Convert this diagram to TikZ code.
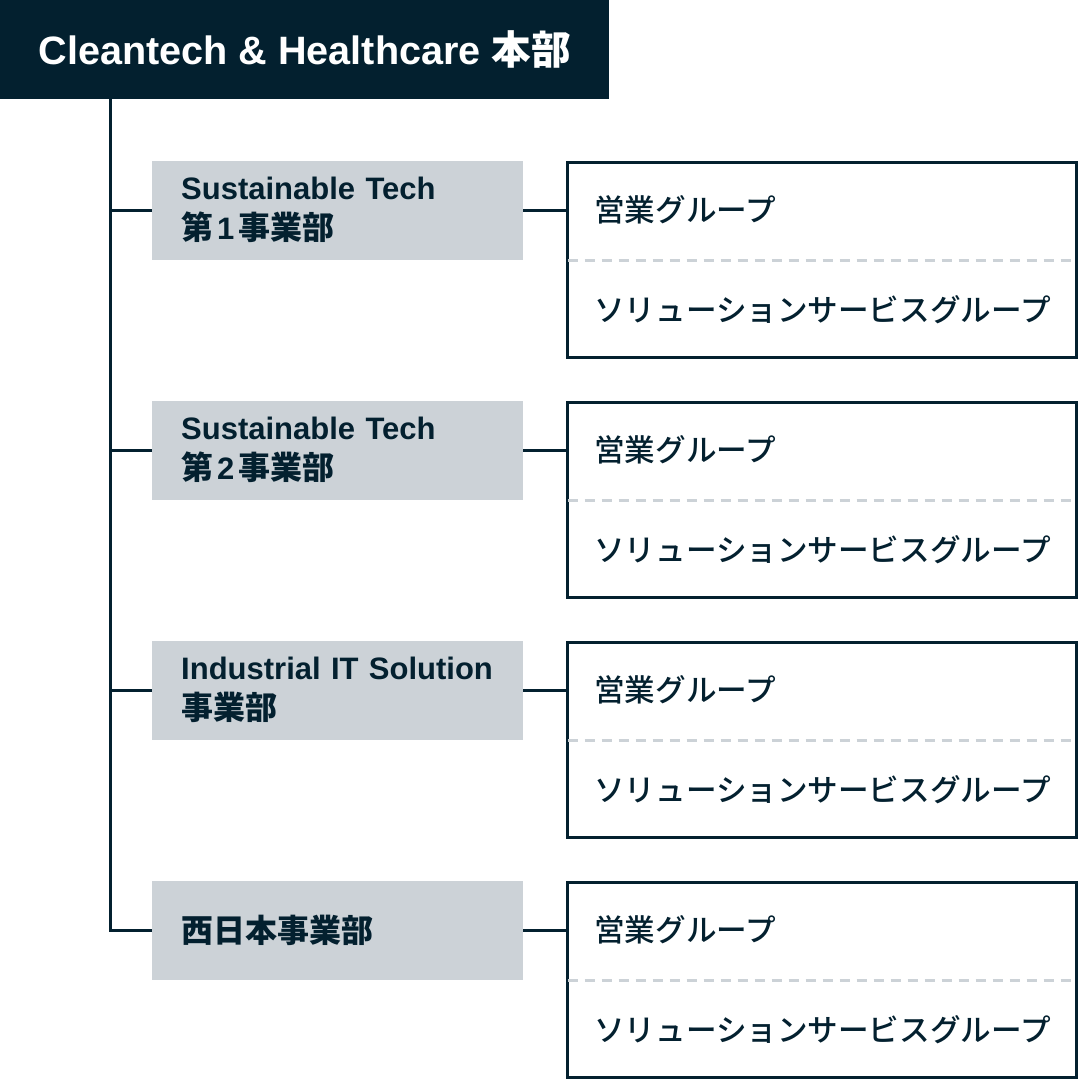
\documentclass[tikz,border=0pt]{standalone}
\usepackage{fontspec}
\setmainfont{Liberation Sans}
\newfontfamily\cjk{Noto Sans CJK JP}
\newfontfamily\cjkm{Noto Sans CJK JP Medium}
\definecolor{navy}{HTML}{03202F}
\definecolor{lgray}{HTML}{CCD2D7}
\begin{document}
\begin{tikzpicture}[x=1pt,y=-1pt,
  hqbox/.style={fill=navy, text=white, minimum width=609pt, minimum height=99pt, inner sep=0pt, font=\fontsize{39.6}{48}\selectfont\bfseries},
  divbox/.style={fill=lgray, text=navy, minimum width=371pt, minimum height=99pt, inner xsep=29pt, inner ysep=0pt, text width=313pt, align=left, font=\fontsize{31}{40}\selectfont\bfseries},
  grpbox/.style={draw=navy, line width=3pt, fill=white, minimum width=509pt, minimum height=195pt, inner sep=0pt},
  grptext/.style={text=navy, inner sep=0pt, anchor=west, font=\fontsize{30.6}{36}\selectfont\cjkm},
  link/.style={draw=navy, line width=3pt},
  sep/.style={draw=lgray, line width=3pt, dash pattern=on 10pt off 7pt}
]
\newcommand{\jp}[1]{{\fontsize{32}{40}\selectfont\cjk\bfseries #1}}
\useasboundingbox (0,0) rectangle (1080,1080);
\node[hqbox, anchor=north west] (hq) at (0,0) {Cleantech \& Healthcare {\cjk 本部}};
\coordinate (trunk) at (110,0);

\node[divbox, anchor=west] (d1) at (152,210) {Sustainable Tech\\\jp{第}\hspace{4pt}1\hspace{4pt}\jp{事業部}};
\node[divbox, anchor=west] (d2) at (152,450) {Sustainable Tech\\\jp{第}\hspace{4pt}2\hspace{4pt}\jp{事業部}};
\node[divbox, anchor=west] (d3) at (152,690) {Industrial IT Solution\\\jp{事業部}};
\node[divbox, anchor=west] (d4) at (152,930) {\jp{西日本事業部}};

\foreach \i/\y in {1/260, 2/500, 3/740, 4/980}{
  \node[grpbox] (g\i) at (822,\y) {};
  \draw[sep] ([xshift=1.5pt]g\i.west) -- ([xshift=-1.5pt]g\i.east);
  \node[grptext] (g\i a) at (594,\y-50) {営業グループ};
  \node[grptext] (g\i b) at (594,\y+50) {ソリューションサービスグループ};
  \draw[link] (d\i.east) -- (d\i.east -| g\i.west);
}

\draw[link] (hq.south -| trunk) |- (d4.west);
\foreach \i in {1,2,3}{
  \draw[link] (trunk |- d\i.west) -- (d\i.west);
}
\end{tikzpicture}
\end{document}
